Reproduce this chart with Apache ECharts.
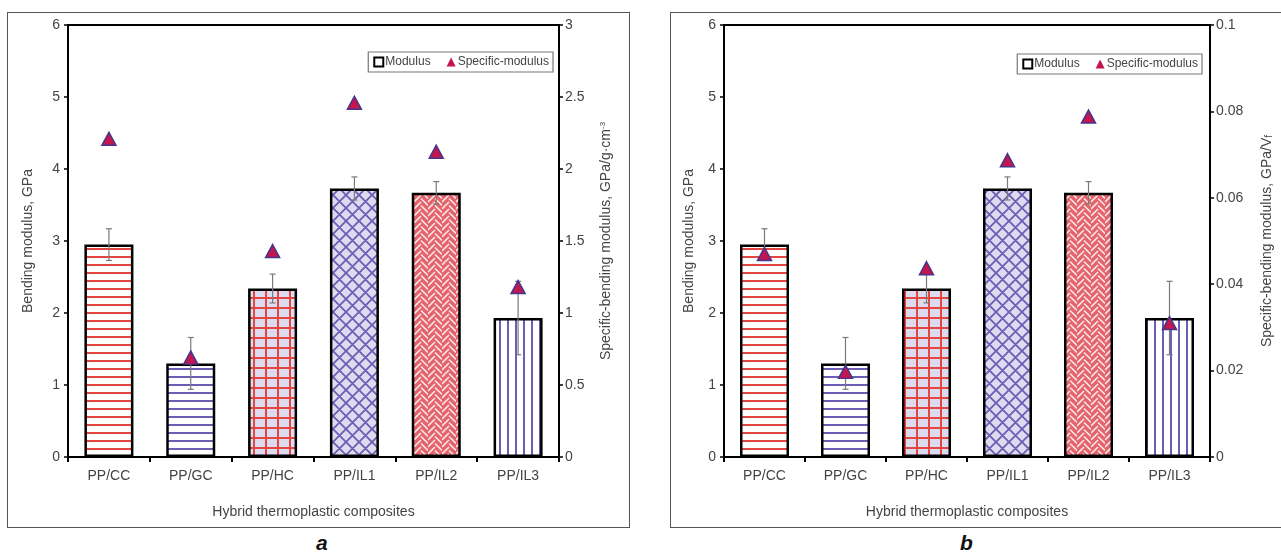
<!DOCTYPE html>
<html>
<head>
<meta charset="utf-8">
<script src="https://cdn.jsdelivr.net/npm/echarts@6/dist/echarts.min.js"></script>
<style>
  html, body { margin: 0; padding: 0; background: #fff; width: 1281px; height: 559px; overflow: hidden; }
  .panel { position: absolute; border: 1px solid #555; box-sizing: border-box; background: #fff; }
  .chart { position: absolute; left: 0; top: 0; width: 100%; height: 100%; }
  .tag { position: absolute; font-family: "Liberation Sans", Arial, sans-serif; font-weight: bold; font-style: italic; font-size: 21px; color: #111; }
</style>
</head>
<body>
<div class="panel" id="pa" style="left:7px; top:12px; width:623px; height:516px;"><div class="chart" id="ca"></div></div>
<div class="panel" id="pb" style="left:670px; top:12px; width:613px; height:516px;"><div class="chart" id="cb"></div></div>
<div class="tag" style="left:316px; top:531px;">a</div>
<div class="tag" style="left:960px; top:531px;">b</div>
<script>
// ---- data ----
const categories = ['PP/CC', 'PP/GC', 'PP/HC', 'PP/IL1', 'PP/IL2', 'PP/IL3'];
const modulus = [2.95, 1.30, 2.34, 3.73, 3.67, 1.93];
const modulusErr = [0.22, 0.36, 0.20, 0.16, 0.155, 0.51];
const specificA = [2.21, 0.69, 1.43, 2.46, 2.12, 1.18];
const specificB = [0.047, 0.0197, 0.0437, 0.0687, 0.0788, 0.031];
const leftTicks = [0, 1, 2, 3, 4, 5, 6];
const rightTicksA = [0, 0.5, 1, 1.5, 2, 2.5, 3];
const rightTicksB = [0, 0.02, 0.04, 0.06, 0.08, 0.1];

// ---- patterns ----
const RED = '#e2463f', PUR = '#6d5db5', LAV = '#dddbef';
function tile(w, h, draw) {
  const c = document.createElement('canvas'); c.width = w; c.height = h;
  const g = c.getContext('2d'); draw(g, w, h); return c;
}
const patCC = tile(8, 8, (g, w, h) => { g.fillStyle = '#fff'; g.fillRect(0,0,w,h); g.fillStyle = RED; g.fillRect(0, 3, w, 2); });
const patGC = tile(8, 8, (g, w, h) => { g.fillStyle = '#fff'; g.fillRect(0,0,w,h); g.fillStyle = PUR; g.fillRect(0, 3, w, 2); });
const patHC = tile(12, 10, (g, w, h) => { g.fillStyle = LAV; g.fillRect(0,0,w,h); g.fillStyle = RED; g.fillRect(0, 4, w, 2); g.fillRect(5, 0, 2, h); });
const patIL1 = tile(13, 13, (g, w, h) => {
  g.fillStyle = LAV; g.fillRect(0,0,w,h); g.strokeStyle = PUR; g.lineWidth = 1.8;
  g.beginPath();
  for (let k = -1; k <= 1; k++) {
    g.moveTo(k * w - 1, -1); g.lineTo(k * w + w + 1, h + 1);
    g.moveTo(k * w + w + 1, -1); g.lineTo(k * w - 1, h + 1);
  }
  g.stroke();
});
const patIL2 = tile(14, 14, (g, w, h) => {
  g.fillStyle = '#e5636a'; g.fillRect(0,0,w,h); g.strokeStyle = '#fbe6e7'; g.lineWidth = 1.6;
  g.beginPath();
  for (let k = -2; k < 4; k++) {
    const y = k * 7;
    g.moveTo(0, y + 7); g.lineTo(7, y);
    g.moveTo(7, y + 3.5); g.lineTo(14, y + 10.5);
  }
  g.stroke();
});
const patIL3 = tile(8, 8, (g, w, h) => { g.fillStyle = '#fff'; g.fillRect(0,0,w,h); g.fillStyle = PUR; g.fillRect(3, 0, 2, h); });
const patterns = [patCC, patGC, patHC, patIL1, patIL2, patIL3];

const FONT = '"Liberation Sans", Arial, sans-serif';
const TXT = '#444';

function buildOption(cfg) {
  const barData = modulus.map((v, i) => ({
    value: v,
    itemStyle: { color: { image: patterns[i], repeat: 'repeat' }, borderColor: '#000', borderWidth: 2.5 }
  }));
  const errData = modulus.map((v, i) => [i, v - modulusErr[i], v + modulusErr[i]]);
  const spec = cfg.specific;
  return {
    animation: false,
    textStyle: { fontFamily: FONT },
    grid: { left: cfg.gridLeft, right: cfg.gridRight, top: 12, bottom: 70, show: true, borderColor: '#000', borderWidth: 2, backgroundColor: 'transparent' },
    legend: {
      right: cfg.legendRight, top: cfg.legendTop,
      orient: 'horizontal',
      borderColor: '#777', borderWidth: 1.2, borderRadius: 0, padding: [4, 4, 4, 5],
      itemWidth: 9, itemHeight: 9, itemGap: 16,
      textStyle: { fontFamily: FONT, fontSize: 12, color: '#444', padding: [0, 0, 0, -3] },
      data: [
        { name: 'Modulus', icon: 'rect', itemStyle: { color: '#fff', borderColor: '#000', borderWidth: 2 } },
        { name: 'Specific-modulus', icon: 'triangle', itemStyle: { color: '#c3164f', borderWidth: 0 } }
      ]
    },
    xAxis: {
      type: 'category', data: categories,
      axisLine: { onZero: false, lineStyle: { color: '#000', width: 2 } },
      axisTick: { show: true, length: 5, lineStyle: { color: '#000', width: 2 } },
      axisLabel: { color: TXT, fontSize: 14, margin: 12 },
      name: 'Hybrid thermoplastic composites', nameLocation: 'middle', nameGap: 48,
      nameTextStyle: { color: TXT, fontSize: 14 }
    },
    yAxis: [
      {
        type: 'value', min: 0, max: 6, interval: 1, position: 'left',
        axisLine: { show: true, lineStyle: { color: '#000', width: 2 } },
        axisTick: { show: true, length: 4, lineStyle: { color: '#000', width: 1.5 } },
        axisLabel: { color: TXT, fontSize: 14, margin: 8, formatter: v => leftTicks.includes(v) ? String(v) : '' },
        splitLine: { show: false },
        name: 'Bending modulus, GPa', nameLocation: 'middle', nameGap: cfg.leftNameGap,
        nameTextStyle: { color: TXT, fontSize: 14 }
      },
      {
        type: 'value', min: 0, max: cfg.rightMax, interval: cfg.rightInterval, position: 'right',
        axisLine: { show: true, lineStyle: { color: '#000', width: 2 } },
        axisTick: { show: true, length: 4, lineStyle: { color: '#000', width: 1.5 } },
        axisLabel: { color: TXT, fontSize: 14, margin: 6, formatter: v => {
          const t = cfg.rightTicks.find(x => Math.abs(x - v) < 1e-9); return t === undefined ? '' : String(t);
        } },
        splitLine: { show: false },
        name: cfg.rightName, nameLocation: 'middle', nameGap: cfg.rightNameGap, nameRotate: 90,
        nameTextStyle: { color: TXT, fontSize: 14, rich: {
          sup: { fontSize: 8, color: TXT, verticalAlign: 'top', lineHeight: 10, padding: [0, 0, 6, 0] },
          sub: { fontSize: 10, color: TXT, verticalAlign: 'bottom', lineHeight: 10, padding: [7, 0, 0, 0] }
        } }
      }
    ],
    series: [
      { name: 'Modulus', type: 'bar', data: barData, barWidth: 49, z: 2 },
      {
        name: 'err', type: 'custom', data: errData, z: 3,
        encode: { x: 0, y: [1, 2] },
        renderItem: (params, api) => {
          const x = api.value(0), lo = api.value(1), hi = api.value(2);
          const a = api.coord([x, hi]), b = api.coord([x, lo]);
          const w = 3;
          const st = { stroke: '#7a7a7a', lineWidth: 1.2 };
          return { type: 'group', children: [
            { type: 'line', shape: { x1: a[0], y1: a[1], x2: b[0], y2: b[1] }, style: st },
            { type: 'line', shape: { x1: a[0] - w, y1: a[1], x2: a[0] + w, y2: a[1] }, style: st },
            { type: 'line', shape: { x1: b[0] - w, y1: b[1], x2: b[0] + w, y2: b[1] }, style: st }
          ] };
        }
      },
      {
        name: 'Specific-modulus', type: 'scatter', yAxisIndex: 1, data: spec, z: 4,
        symbol: 'triangle', symbolSize: [14, 13],
        itemStyle: { color: '#c3164f', borderColor: '#45368c', borderWidth: 1.5, opacity: 1 }
      }
    ]
  };
}

const chartA = echarts.init(document.getElementById('ca'), null, { renderer: 'canvas' });
chartA.setOption(buildOption({
  specific: specificA, rightMax: 3, rightInterval: 0.5, rightTicks: rightTicksA,
  gridLeft: 60, gridRight: 70, legendRight: 76, legendTop: 39,
  leftNameGap: 33, rightNameGap: 40,
  rightName: 'Specific-bending modulus, GPa/g·cm{sup|-3}'
}));
const chartB = echarts.init(document.getElementById('cb'), null, { renderer: 'canvas' });
chartB.setOption(buildOption({
  specific: specificB, rightMax: 0.1, rightInterval: 0.02, rightTicks: rightTicksB,
  gridLeft: 53, gridRight: 69, legendRight: 80, legendTop: 41,
  leftNameGap: 28, rightNameGap: 50,
  rightName: 'Specific-bending modulus, GPa/V{sub|f}'
}));
</script>
</body>
</html>
